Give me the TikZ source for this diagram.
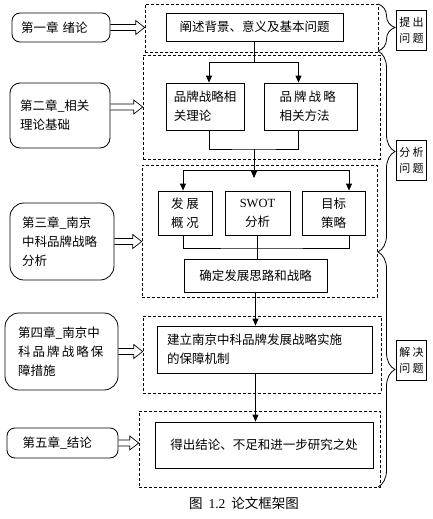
\documentclass[tikz,border=0pt]{standalone}
\usepackage{fontspec}
\setmainfont{Noto Sans CJK SC}
\newfontfamily\latin{Liberation Serif}
\usetikzlibrary{arrows.meta,calc,decorations.pathreplacing}

\tikzset{
  box/.style={draw, line width=0.8pt, inner sep=0pt, align=center},
  chap/.style={draw, line width=0.8pt, rounded corners=8pt, inner sep=0pt, align=left, text width=80pt},
  frame/.style={draw, line width=0.6pt, dash pattern=on 3pt off 2pt, inner sep=0pt},
  tag/.style={draw, line width=0.6pt, inner sep=0pt, minimum width=30pt, minimum height=40pt, align=center, font=\fontsize{11}{16}\selectfont},
  curly/.style={decorate, decoration={brace, amplitude=17pt}, line width=0.8pt},
  link/.style={line width=0.8pt},
  >={Triangle[length=7pt,width=6pt]}
}

\begin{document}
\begin{tikzpicture}[x=1pt, y=-1pt, font=\fontsize{12.5}{19}\selectfont]
    \useasboundingbox (0,0) rectangle (433,519);

    % dashed frames
    \node[frame, minimum width=233pt, minimum height=48pt] (d1) at (261.5,28) {};
    \node[frame, minimum width=237pt, minimum height=104pt] (d2) at (261.5,107) {};
    \node[frame, minimum width=235pt, minimum height=132pt] (d3) at (259.5,231) {};
    \node[frame, minimum width=238pt, minimum height=77pt] (d4) at (262,354.5) {};
    \node[frame, minimum width=241pt, minimum height=76pt] (d5) at (259.5,449) {};

    % chapters
    \node[chap, minimum width=98pt, minimum height=29pt] (ch1) at (61,27.5) {第一章 绪论};
    \node[chap, minimum width=100pt, minimum height=65pt, rounded corners=10pt] (ch2) at (60,115.5) {第二章\_相关\\理论基础};
    \node[chap, minimum width=104pt, minimum height=77pt, rounded corners=14pt] (ch3) at (62,241.5) {第三章\_南京\\中科品牌战略\\分析};
    \node[chap, minimum width=113pt, minimum height=77pt, rounded corners=14pt, text width=87pt] (ch4) at (61.5,351.5) {第四章\_南京中\\科\,品\,牌\,战\,略\,保\\障措施};
    \node[chap, minimum width=111pt, minimum height=30pt] (ch5) at (62.5,443) {第五章\_结论};

    % content boxes
    \node[box, minimum width=177pt, minimum height=28pt] (intro) at (254.5,27) {阐述背景、意义及基本问题};
    \node[box, minimum width=78pt, minimum height=47pt, text width=62.5pt, align=left] (theory) at (205,106.5) {品牌战略相\\关理论};
    \node[box, minimum width=93pt, minimum height=47pt, text width=62pt, align=left] (method) at (310.5,106.5) {品\,牌\,战\,略\\相关方法};
    \node[box, minimum width=54pt, minimum height=44pt] (survey) at (185,213) {发 展\\概 况};
    \node[box, minimum width=65pt, minimum height=44pt] (swot) at (257.5,213) {{\latin SWOT}\\分析};
    \node[box, minimum width=63pt, minimum height=44pt] (goal) at (333.5,213) {目标\\策略};
    \node[box, minimum width=143pt, minimum height=33pt] (plan) at (255.5,275.5) {确定发展思路和战略};
    \node[box, minimum width=215pt, minimum height=47pt, text width=195pt, align=left] (measure) at (264.5,349.5) {建立南京中科品牌发展战略实施\\的保障机制};
    \node[box, minimum width=218pt, minimum height=46pt] (concl) at (264,445) {得出结论、不足和进一步研究之处};

    % side tags
    \node[tag] (q1) at (411.5,30.5) {提 出\\问 题};
    \node[tag] (q2) at (411.5,160) {分 析\\问 题};
    \node[tag] (q3) at (411.5,360) {解 决\\问 题};

    \node[font=\fontsize{13.5}{16}\selectfont] (cap) at (244,503) {图\hspace{6pt}{\latin 1.2}\hspace{6pt}论文框架图};

    % hollow arrows
    \foreach \a/\b/\s in {ch1/d1/0, ch2/d2/8.5, ch3/d3/0, ch4/d4/0, ch5/d5/0}
        \draw[line width=0.7pt] let \p1=([yshift=\s]\a.east), \p2=(\b.west) in
            (\x1,\y1+3pt) -- (\x2-9pt,\y1+3pt) -- (\x2-9pt,\y1+7pt) -- (\x2,\y1)
            -- (\x2-9pt,\y1-7pt) -- (\x2-9pt,\y1-3pt) -- (\x1,\y1-3pt);

    % flow
    \coordinate (j1) at (254.5,62);
    \coordinate (j2) at (254,149);
    \coordinate (j3) at (254,170);
    \coordinate (j4) at (257,248);
    \draw[link] (intro.south) -- (j1);
    \draw[link,->] (j1) -| ([xshift=4pt]theory.north);
    \draw[link,->] (j1) -| ([xshift=-12pt]method.north);
    \draw[link] ([xshift=4pt]theory.south) |- (j2) -| ([xshift=-12pt]method.south);
    \draw[link,->] (j2) -- ([yshift=-8pt]j3);
    \draw[link,->] (j3) -| ([xshift=-2pt]survey.north);
    \draw[link,->] (j3) -| ([xshift=15.5pt]goal.north);
    \draw[link] ([xshift=-2pt]survey.south) |- (j4) -| ([xshift=15.5pt]goal.south);
    \draw[link] (swot.south) -- (swot.south |- plan.north);
    \draw[link,->] (plan.south) -- (plan.south |- measure.north);
    \draw[link,->] (measure.south -| plan.south) -- (concl.north -| plan.south);

    % braces
    \draw[curly] (378,4) -- (378,51);
    \draw[curly] (378,51) -- (378,252);
    \draw[curly] (378,252) -- (378,487);
\end{tikzpicture}
\end{document}
